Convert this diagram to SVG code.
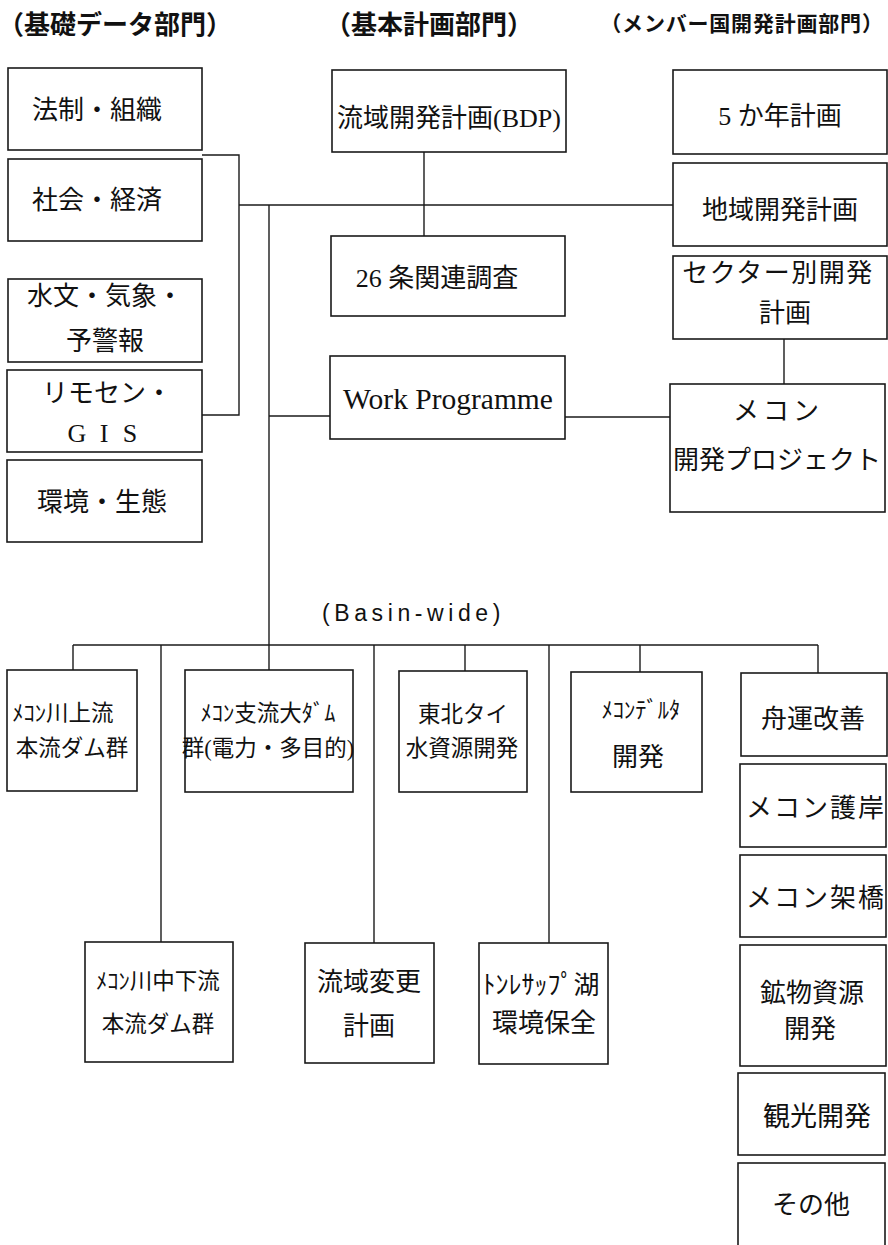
<svg xmlns="http://www.w3.org/2000/svg" width="888" height="1245" viewBox="0 0 888 1245">
<style>
.bx{fill:#fff;stroke:#1a1a1a;stroke-width:1.6}
.ln{fill:none;stroke:#1a1a1a;stroke-width:1.4}
.t{font-family:"Liberation Serif","Noto Sans CJK JP",serif;font-size:26px;fill:#111;text-anchor:middle;dominant-baseline:central}
.s{font-size:22.5px}
.h{font-family:"Noto Sans CJK JP",sans-serif;font-size:26px;font-weight:700;fill:#111;text-anchor:middle;dominant-baseline:central}
</style>
<rect width="888" height="1245" fill="#fff"/>
<g id="headers">
<text class="h" x="115" y="22">（基礎データ部門）</text>
<text class="h" x="429" y="22">（基本計画部門）</text>
<text class="h" x="742" y="22" style="font-size:21px;letter-spacing:0.8px">（メンバー国開発計画部門）</text>
<text x="322" y="621" style="font-family:'Liberation Sans',sans-serif;font-size:23px;letter-spacing:4.6px;fill:#111">(Basin-wide)</text>
</g>
<g id="connectors">
<polyline class="ln" points="202,155 239,155 239,415 202,415"/>
<line class="ln" x1="239" y1="205" x2="673" y2="205"/>
<line class="ln" x1="424" y1="152" x2="424" y2="236"/>
<line class="ln" x1="269" y1="205" x2="269" y2="670"/>
<line class="ln" x1="269" y1="416" x2="330" y2="416"/>
<line class="ln" x1="565" y1="417" x2="670" y2="417"/>
<line class="ln" x1="784" y1="339" x2="784" y2="384"/>
<line class="ln" x1="73" y1="645" x2="818" y2="645"/>
<line class="ln" x1="73" y1="645" x2="73" y2="670"/>
<line class="ln" x1="161" y1="645" x2="161" y2="942"/>
<line class="ln" x1="374" y1="645" x2="374" y2="943"/>
<line class="ln" x1="465" y1="645" x2="465" y2="671"/>
<line class="ln" x1="549" y1="645" x2="549" y2="943"/>
<line class="ln" x1="640" y1="645" x2="640" y2="672"/>
<line class="ln" x1="818" y1="645" x2="818" y2="673"/>
</g>
<g id="n-housei"><rect class="bx" x="8" y="68" width="194" height="82"/><text class="t" x="97" y="110">法制・組織</text></g>
<g id="n-shakai"><rect class="bx" x="8" y="159" width="194" height="82"/><text class="t" x="97" y="200">社会・経済</text></g>
<g id="n-suimon"><rect class="bx" x="8" y="279" width="194" height="83"/><text class="t" x="105" y="296">水文・気象・</text><text class="t" x="105" y="341">予警報</text></g>
<g id="n-rimosen"><rect class="bx" x="7" y="370" width="195" height="82"/><text class="t" x="107" y="393">リモセン・</text><text class="t" x="77 104 130" y="433">GIS</text></g>
<g id="n-kankyo"><rect class="bx" x="7" y="460" width="195" height="82"/><text class="t" x="102" y="502">環境・生態</text></g>
<g id="n-bdp"><rect class="bx" x="332" y="70" width="234" height="82"/><text class="t" x="449" y="118">流域開発計画(BDP)</text></g>
<g id="n-26"><rect class="bx" x="331" y="236" width="234" height="80"/><text class="t" x="437" y="278">26 条関連調査</text></g>
<g id="n-wp"><rect class="bx" x="330" y="356" width="235" height="83"/><text class="t" x="448" y="399" style="font-size:29.5px">Work Programme</text></g>
<g id="n-5year"><rect class="bx" x="673" y="70" width="214" height="84"/><text class="t" x="780" y="116">5 か年計画</text></g>
<g id="n-chiiki"><rect class="bx" x="673" y="163" width="214" height="83"/><text class="t" x="780" y="210">地域開発計画</text></g>
<g id="n-sector"><rect class="bx" x="673" y="256" width="214" height="83"/><text class="t" x="778" y="273" style="letter-spacing:1.5px">セクター別開発</text><text class="t" x="785" y="313">計画</text></g>
<g id="n-mekongproj"><rect class="bx" x="670" y="384" width="215" height="128"/><text class="t" x="778" y="411" style="letter-spacing:4px">メコン</text><text class="t" x="777" y="460">開発プロジェクト</text></g>
<g id="b-jouryu"><rect class="bx" x="7" y="670" width="130" height="121"/><text class="t s" x="63" y="713">ﾒｺﾝ川上流</text><text class="t s" x="72" y="748">本流ダム群</text></g>
<g id="b-shiryu"><rect class="bx" x="185" y="670" width="168" height="122"/><text class="t s" x="268" y="713">ﾒｺﾝ支流大ﾀﾞﾑ</text><text class="t s" x="268" y="748">群(電力・多目的)</text></g>
<g id="b-tohoku"><rect class="bx" x="399" y="671" width="128" height="121"/><text class="t s" x="463" y="714">東北タイ</text><text class="t s" x="462" y="748">水資源開発</text></g>
<g id="b-delta"><rect class="bx" x="571" y="672" width="131" height="120"/><text class="t s" x="641" y="710">ﾒｺﾝﾃﾞﾙﾀ</text><text class="t" x="638" y="757">開発</text></g>
<g id="b-shuun"><rect class="bx" x="741" y="673" width="146" height="83"/><text class="t" x="813" y="719">舟運改善</text></g>
<g id="b-gogan"><rect class="bx" x="740" y="764" width="146" height="83"/><text class="t" x="816" y="808" style="letter-spacing:2px">メコン護岸</text></g>
<g id="b-kakyo"><rect class="bx" x="740" y="855" width="146" height="82"/><text class="t" x="816" y="898" style="letter-spacing:2px">メコン架橋</text></g>
<g id="b-kobutsu"><rect class="bx" x="740" y="945" width="146" height="121"/><text class="t" x="812" y="993">鉱物資源</text><text class="t" x="810" y="1029">開発</text></g>
<g id="b-kanko"><rect class="bx" x="738" y="1073" width="147" height="82"/><text class="t" x="817" y="1117" style="font-size:27px">観光開発</text></g>
<g id="b-sonota"><rect class="bx" x="738" y="1163" width="147" height="90"/><text class="t" x="811" y="1205">その他</text></g>
<g id="b-chukaryu"><rect class="bx" x="85" y="942" width="148" height="120"/><text class="t s" x="158" y="981">ﾒｺﾝ川中下流</text><text class="t s" x="158" y="1024">本流ダム群</text></g>
<g id="b-henkou"><rect class="bx" x="305" y="943" width="129" height="120"/><text class="t" x="369" y="982">流域変更</text><text class="t" x="369" y="1026">計画</text></g>
<g id="b-tonle"><rect class="bx" x="479" y="943" width="129" height="121"/><text class="t" x="541" y="985" style="font-size:26px">ﾄﾝﾚｻｯﾌﾟ湖</text><text class="t" x="544" y="1023">環境保全</text></g>
</svg>
